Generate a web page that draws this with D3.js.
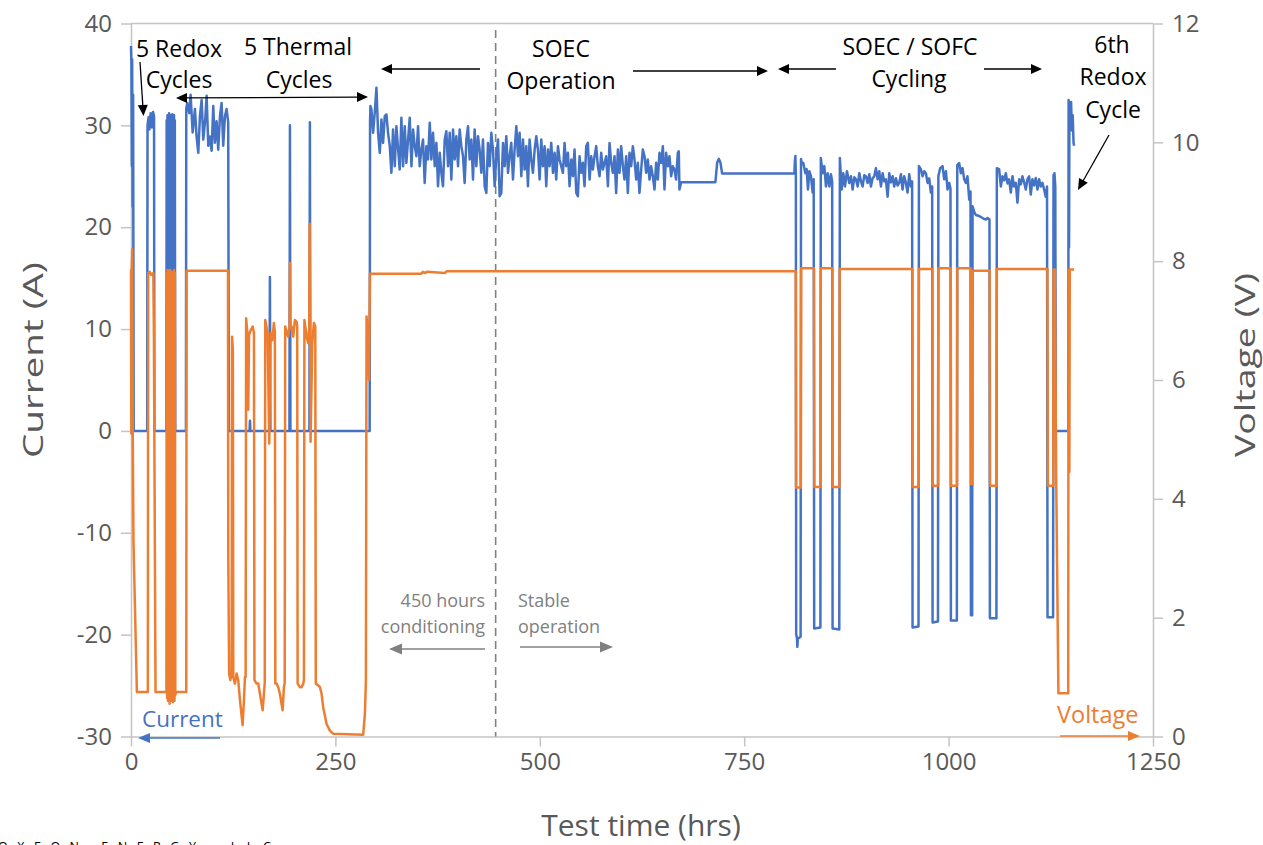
<!DOCTYPE html>
<html><head><meta charset="utf-8">
<script src="https://cdn.jsdelivr.net/npm/d3@7/dist/d3.min.js"></script>
<style>
html,body{margin:0;padding:0;background:#fff;overflow:hidden;}
svg{display:block;}
text{font-family:"Open Sans",sans-serif;}
</style></head><body>
<svg id="chart" width="1263" height="845"></svg>
<script>
// ---------- tick labels ----------
const xTicks=[0,250,500,750,1000,1250];
const currentTicks=[-30,-20,-10,0,10,20,30,40];
const voltageTicks=[0,2,4,6,8,10,12];

// ---------- Current (A): [test time hrs, amps] ----------
const currentRedox=[[0,37.8],[0.5,36.0],[1.0,26.0],[1.4,36.5],[2.0,22.0],[2.6,33.0],[3.3,0],[19.8,0],[20.2,30.0],[21.5,30.8],[22.5,29.6],[24.0,31.2],[25.5,29.8],[27.0,31.3],[28.2,30.9],[28.6,0],[43.3,0],
[43.6,30.5],[44.1,2],[44.6,31.0],[45.1,1],[45.6,30.6],[46.1,3],[46.6,31.2],[47.1,1],[47.6,30.8],[48.1,2],[48.6,31.0],[49.1,1],[49.6,30.4],[50.1,2],[50.6,31.1],[51.1,1],[51.6,30.7],[52.1,2],[52.6,31.0],[53.1,1],[53.6,30.5],[54.1,0],[55.0,0],[67.2,0],
[67.6,31.6],[68.8,32.2],[71.3,31.2],[72.9,33.0],[75.4,29.3],[78.2,31.6],[80.2,28.9],[82.3,27.3],[84.3,30.9],[86.4,32.5],[88.4,28.6],[90.8,30.6],[92.5,32.9],[94.5,28.0],[96.5,28.9],[98.6,27.5],[100.6,31.9],[102.6,28.3],[104.7,30.4],[106.7,27.6],[108.8,30.9],[110.8,32.2],[112.8,28.0],[114.9,30.9],[116.9,31.6],[118.9,30.3],[119.7,0]];
const currentThermal=[[145.0,0],[145.5,1.0],[146.0,0],[169.3,0],[169.9,15.1],[170.5,0],[193.8,0],[194.4,30.0],[195.0,0],[218.2,0],[218.8,30.3],[219.4,0],[291.9,0]];
const currentSoec=[[292.4,30.5],[292.9,31.9],[294.1,31.56],[296.1,29.27],[298.1,31.24],[300.2,33.7],[302.2,29.27],[304.3,27.3],[306.3,30.58],[308.3,28.28],[310.4,30.9],[312.4,31.07],[314.4,29.27],[316.5,27.96],[318.5,25.34],[320.5,29.6],[322.6,25.99],[324.6,29.92],[326.7,27.63],[328.7,25.66],[330.7,30.74],[332.8,25.99],[334.8,29.92],[336.8,26.32],[338.9,28.61],[340.9,30.74],[343.0,25.99],[345.0,29.6],[347.0,27.96],[349.1,26.97],[351.1,29.92],[353.1,25.99],[355.2,27.63],[357.2,28.61],[359.2,24.35],[361.3,27.96],[363.3,26.65],[365.4,30.25],[367.4,26.65],[369.4,29.27],[371.5,25.99],[373.5,28.28],[375.5,24.02],[377.6,27.3],[379.6,25.34],[381.6,24.02],[383.7,28.61],[385.7,29.43],[387.8,25.99],[389.8,29.27],[391.8,24.68],[393.9,29.6],[395.9,26.65],[397.9,28.94],[400.0,25.99],[402.0,29.6],[404.0,27.96],[406.1,26.97],[408.1,24.35],[410.2,28.61],[412.2,29.92],[414.2,26.65],[416.3,28.61],[418.3,24.68],[420.3,29.6],[422.4,25.99],[424.4,28.94],[426.4,27.63],[428.5,25.34],[430.5,28.61],[432.6,24.02],[434.6,23.37],[436.6,28.28],[438.7,25.99],[440.7,29.27],[442.7,27.63],[444.8,24.02],[446.8,26.97],[448.9,28.61],[450.9,23.04],[452.9,23.37],[455.0,28.28],[457.0,25.99],[459.0,28.94],[461.1,25.34],[463.1,26.97],[465.1,28.28],[467.2,24.68],[469.2,27.63],[471.3,29.92],[473.3,26.97],[475.3,29.27],[477.4,25.01],[479.4,28.61],[481.4,25.66],[483.5,27.96],[485.5,24.02],[487.5,28.61],[489.6,26.65],[491.6,25.34],[493.7,27.63],[495.7,28.94],[497.7,27.63],[499.8,24.68],[501.8,28.61],[503.8,25.99],[505.9,27.96],[507.9,24.02],[509.9,27.63],[512.0,25.99],[514.0,28.28],[516.1,25.34],[518.1,27.3],[520.1,24.68],[522.2,27.96],[524.2,26.65],[526.2,25.99],[528.3,25.34],[530.3,28.28],[532.3,25.99],[534.4,27.3],[536.4,24.02],[538.5,26.65],[540.5,25.01],[542.5,27.63],[544.6,23.37],[546.6,23.04],[548.6,26.97],[550.7,25.34],[552.7,26.32],[554.7,24.02],[556.8,27.96],[558.8,28.28],[560.9,24.68],[562.9,26.97],[564.9,25.66],[567.0,26.97],[569.0,27.96],[571.0,25.99],[573.1,25.01],[575.1,27.3],[577.1,25.66],[579.2,26.32],[581.2,26.97],[583.3,24.02],[585.3,28.28],[587.3,26.32],[589.4,25.34],[591.4,26.97],[593.4,23.37],[595.5,27.63],[597.5,25.34],[599.5,27.96],[601.6,25.99],[603.6,24.68],[605.7,26.97],[607.7,23.37],[609.7,27.3],[611.8,25.99],[613.8,27.96],[615.8,26.65],[617.9,24.68],[619.9,26.32],[621.9,23.37],[624.0,25.66],[626.0,27.63],[628.1,26.97],[630.1,25.34],[632.1,26.65],[634.2,24.68],[636.2,25.99],[638.2,25.01],[640.3,23.7],[642.3,26.32],[644.3,24.68],[646.4,27.3],[648.4,26.32],[650.5,27.96],[652.5,23.7],[654.5,27.3],[656.6,25.99],[658.6,26.97],[660.6,25.01],[662.7,25.99],[664.7,25.66],[666.7,24.68],[668.8,27.3],[670.0,27.46],[670.8,23.7],[672.9,24.42],[714.8,24.42],[716.9,26.32],[718.9,26.71],[721.0,26.32],[723.0,25.27],[811.4,25.27]];
const currentCycling=[[812.0,26.5],[812.6,27.0],[813.2,25.0],[813.6,-20.0],[814.5,-20.3],[815.0,-21.2],[815.6,-20.4],[819.0,-20.2],
[819.5,26.7],[820.5,26.3],[822.3,26.3],[824.8,25.3],[826.4,25.7],[828.0,23.7],[829.7,25.5],[831.7,25.0],[833.7,23.4],[835.0,24.7],[835.6,-19.4],[843.2,-19.3],
[843.7,26.8],[845.9,25.3],[848.0,26.0],[850.0,24.0],[852.1,25.3],[854.1,24.0],[856.1,25.2],[857.6,24.5],[858.1,-19.4],[866.3,-19.5],
[867.0,26.8],[869.2,23.7],[871.2,25.3],[873.2,24.0],[875.7,25.5],[878.5,24.35],[880.6,25.0],[882.6,23.7],[884.7,24.9],[886.7,24.7],[888.8,24.0],[890.8,25.3],[892.8,24.5],[894.8,24.0],[896.9,25.1],[898.9,25.0],[900.9,24.35],[903.0,25.2],[905.0,24.0],[907.0,24.8],[909.1,25.0],[911.1,25.8],[913.2,24.7],[915.2,25.5],[917.2,24.0],[919.3,25.3],[921.3,24.5],[923.3,24.7],[925.4,23.0],[927.4,25.3],[929.4,24.4],[931.5,25.0],[933.5,24.0],[935.6,24.8],[937.6,24.1],[939.6,24.35],[941.7,25.2],[943.7,23.7],[945.7,25.0],[947.8,24.35],[949.8,23.4],[951.8,25.2],[953.9,24.0],[955.4,24.5],[955.9,-19.3],[963.2,-19.2],
[963.7,26.0],[966.1,25.7],[968.1,25.0],[970.2,25.5],[972.2,25.3],[974.3,24.35],[976.3,24.8],[978.3,23.4],[979.9,24.0],[980.4,-18.8],[987.0,-18.7],
[987.5,25.0],[989.7,25.8],[992.6,26.0],[994.6,24.7],[996.7,25.5],[998.7,23.7],[1000.7,24.35],[1002.3,23.8],[1002.8,-18.6],[1010.1,-18.6],
[1010.6,26.1],[1012.9,26.3],[1015.0,25.3],[1017.0,25.8],[1019.1,24.7],[1021.1,24.35],[1023.1,25.0],[1025.2,22.7],[1026.8,23.5],[1027.3,-18.1],[1028.8,-18.1],
[1029.3,22.05],[1031.3,21.5],[1033.3,21.2],[1037.4,21.1],[1041.5,20.9],[1045.5,20.75],[1047.6,20.9],[1050.0,20.75],[1050.5,-18.4],[1058.5,-18.4],
[1059.0,25.8],[1061.8,25.7],[1063.9,24.0],[1065.9,25.0],[1068.0,24.6],[1070.0,25.3],[1072.0,24.3],[1074.0,24.7],[1076.1,23.4],[1078.1,25.0],[1080.1,24.0],[1082.2,24.35],[1084.2,22.4],[1086.3,24.7],[1088.3,24.2],[1090.3,25.0],[1092.4,24.4],[1094.4,23.7],[1096.4,24.7],[1098.5,25.0],[1100.5,23.2],[1102.5,24.7],[1104.6,24.1],[1106.6,24.84],[1108.7,23.7],[1110.7,24.7],[1112.7,24.0],[1114.8,24.35],[1116.8,23.7],[1118.8,23.0],[1120.4,24.0],[1121.0,-18.3],[1127.8,-18.3],
[1128.3,25.1],[1129.5,25.3],[1130.5,24.0],[1131.1,0],[1146.3,0],[1146.8,32.5],[1147.3,18],[1147.8,32.0],[1148.8,31.0],[1149.8,32.3],[1150.8,29.5],[1151.8,31.0],[1152.8,28.3],[1153.5,28.0]];

// ---------- Voltage (V): [test time hrs, volts] ----------
const voltageRedox=[[0,7.86],[0.4,5.1],[0.9,7.9],[1.5,8.2],[2.2,5.0],[3.0,3.3],[7.2,0.75],[20.6,0.75],[21.0,7.8],[23.0,7.82],[24.5,7.77],[27.3,7.8],[28.0,6.8],[30.0,0.75],[43.3,0.75],
[43.7,7.8],[44.2,0.65],[44.7,7.85],[45.2,0.6],[45.7,7.8],[46.2,0.7],[46.7,7.8],[47.2,0.55],[47.7,7.85],[48.2,0.65],[48.7,7.8],[49.2,0.6],[49.7,7.82],[50.2,0.7],[50.7,7.8],[51.2,0.58],[51.7,7.8],[52.2,0.66],[52.7,7.85],[53.2,0.6],[53.7,7.8],[54.2,0.7],[55.5,0.75],[67.6,0.75],[68.0,7.84],[118.6,7.84]];
const voltageThermal=[[119.0,3.0],[120.0,1.06],[121.5,0.95],[123.1,1.06],[123.6,6.73],[124.6,6.5],[125.1,1.0],[127.1,0.89],[129.2,1.06],[131.2,0.94],[133.3,0.61],[136.5,0.19],[138.1,0.6],[139.4,1.0],[140.2,1.0],[140.8,7.04],[142.4,6.79],[143.4,5.5],[144.4,6.76],[146.5,6.84],[148.8,6.9],[150.4,6.8],[151.0,0.95],[153.6,0.89],[155.7,0.89],[157.7,0.72],[161.0,0.44],[162.6,0.72],[163.6,0.9],
[164.2,7.01],[167.1,6.79],[169.1,4.93],[170.7,6.79],[172.8,6.67],[174.8,6.96],[176.0,6.8],[176.5,0.89],[178.1,0.89],[180.1,0.83],[182.1,0.72],[185.4,0.44],[187.0,0.83],[188.0,0.9],
[188.6,6.9],[192.3,6.73],[194.0,6.9],[194.4,7.97],[194.9,6.9],[196.4,6.9],[198.4,6.73],[200.5,7.01],[202.5,6.98],[203.3,6.9],[203.8,0.89],[206.6,0.83],[208.6,0.83],[210.7,0.89],[211.5,0.95],
[212.1,7.01],[214.8,6.73],[216.8,6.62],[218.0,6.9],[218.5,8.63],[219.2,6.8],[219.6,4.96],[221.7,6.62],[223.7,6.96],[225.4,6.9],[226.0,0.89],[229.0,0.86],[231.1,0.83],[233.1,0.72],[235.1,0.49],[239.2,0.21],[243.3,0.1],[247.4,0.045],[284.0,0.03],[286.1,0.39],[287.3,0.94],
[288.1,7.07],[289.0,6.9],[290.1,6.87],[291.2,6.0],[292.2,7.79]];
const voltageSoec=[[355,7.79],[357,7.82],[360,7.8],[362,7.82],[384,7.8],[386,7.83],[813.0,7.83]];
const voltageCycling=[[813.4,4.19],[819.3,4.19],[819.7,7.88],[835.4,7.88],[835.8,4.2],[843.3,4.2],[843.7,7.88],[857.8,7.88],[858.2,4.2],[866.4,4.2],[866.8,7.87],[955.7,7.87],[956.1,4.2],[963.3,4.2],[963.7,7.87],[980.2,7.87],[980.6,4.22],[987.1,4.22],[987.5,7.88],[1002.6,7.88],[1003.0,4.22],[1010.3,4.22],[1010.7,7.88],[1027.1,7.88],[1027.5,4.25],[1029.0,4.25],[1029.4,7.84],[1050.3,7.84],[1050.7,4.22],[1058.6,4.22],[1059.0,7.87],[1120.9,7.87],[1121.5,4.22],[1128.0,4.22],[1128.4,7.86],[1130.0,7.86],[1131.5,4.5],[1134.3,0.73],[1146.3,0.73],[1146.7,7.86],[1147.3,7.86],[1147.7,4.45],[1148.2,7.86],[1153.5,7.86]];

const currentData=[].concat(currentRedox,currentThermal,currentSoec,currentCycling);
const voltageData=[].concat(voltageRedox,voltageThermal,voltageSoec,voltageCycling);

// ---------- drawing ----------
const svg=d3.select('#chart');
const x=d3.scaleLinear().domain([0,1250]).range([131,1153]);
const yI=d3.scaleLinear().domain([-30,40]).range([736.5,23.5]);
const yV=d3.scaleLinear().domain([0,12]).range([736.5,23.5]);
const axisColor='#c4c4c4', labelColor='#595959';
const BLUE='#4472C4', ORANGE='#ED7D31';

function styleAxis(g,fs){
  g.selectAll('path.domain').attr('stroke',axisColor).attr('stroke-width',1.5);
  g.selectAll('.tick line').attr('stroke',axisColor).attr('stroke-width',1.5);
  g.selectAll('.tick text').attr('fill',labelColor).style('font-size',fs+'px').style('font-family','"Open Sans",sans-serif');
}
// top border
svg.append('line').attr('x1',x(0)).attr('x2',x(1250)).attr('y1',yI(40)).attr('y2',yI(40)).attr('stroke',axisColor).attr('stroke-width',1.5);

const gx=svg.append('g').attr('transform',`translate(0,${yI(-30)})`)
  .call(d3.axisBottom(x).tickValues(xTicks).tickSize(10).tickSizeOuter(0).tickPadding(6).tickFormat(d3.format('d')));
styleAxis(gx,24);
const gl=svg.append('g').attr('transform',`translate(${x(0)},0)`)
  .call(d3.axisLeft(yI).tickValues(currentTicks).tickSize(10).tickSizeOuter(0).tickPadding(9).tickFormat(d=>d<0?'-'+Math.abs(d):d));
styleAxis(gl,24);
const gr=svg.append('g').attr('transform',`translate(${x(1250)},0)`)
  .call(d3.axisRight(yV).tickValues(voltageTicks).tickSize(10).tickSizeOuter(0).tickPadding(9));
styleAxis(gr,24);

// axis titles (stretched along their length like the source picture)
svg.append('text').attr('transform','translate(43,360) rotate(-90) scale(1.38,1)').attr('text-anchor','middle')
  .attr('fill',labelColor).style('font-size','28px').text('Current (A)');
svg.append('text').attr('transform','translate(1255,365) rotate(-90) scale(1.34,1)').attr('text-anchor','middle')
  .attr('fill',labelColor).style('font-size','28px').text('Voltage (V)');
svg.append('text').attr('x',641).attr('y',836).attr('text-anchor','middle')
  .attr('fill',labelColor).style('font-size','30px').text('Test time (hrs)');

// dashed divider at ~450 h
svg.append('line').attr('x1',x(446)).attr('x2',x(446)).attr('y1',30).attr('y2',yI(-30))
  .attr('stroke','#808080').attr('stroke-width',1.6).attr('stroke-dasharray','8,5');

// series
svg.append('path').datum(currentData).attr('fill','none').attr('stroke',BLUE).attr('stroke-width',2.5)
  .attr('stroke-linejoin','round').attr('d',d3.line().x(d=>x(d[0])).y(d=>yI(d[1])));
svg.append('path').datum(voltageData).attr('fill','none').attr('stroke',ORANGE).attr('stroke-width',2.5)
  .attr('stroke-linejoin','round').attr('d',d3.line().x(d=>x(d[0])).y(d=>yV(d[1])));

// arrows
function arrow(x1,y1,x2,y2,color,w,hl,hw,both){
  const g=svg.append('g');
  function head(ax,ay,bx,by){
    const dx=bx-ax,dy=by-ay,L=Math.hypot(dx,dy),ux=dx/L,uy=dy/L;
    const px=-uy,py=ux;
    const baseX=bx-ux*hl,baseY=by-uy*hl;
    g.append('polygon').attr('points',[[bx,by],[baseX+px*hw/2,baseY+py*hw/2],[baseX-px*hw/2,baseY-py*hw/2]].map(p=>p.join(',')).join(' ')).attr('fill',color);
    return [baseX+ux*1,baseY+uy*1];
  }
  const e=head(x1,y1,x2,y2);
  let s=[x1,y1];
  if(both) s=head(x2,y2,x1,y1);
  g.insert('line','polygon').attr('x1',s[0]).attr('y1',s[1]).attr('x2',e[0]).attr('y2',e[1]).attr('stroke',color).attr('stroke-width',w);
}
arrow(140,62,143.5,116,'#000',1.3,11,10,false);
arrow(176,98,368,97,'#000',1.3,11,10,true);
arrow(480,69,381,69,'#000',1.3,11,10,false);
arrow(633,71,768,71,'#000',1.3,11,10,false);
arrow(836,69,778,69,'#000',1.3,11,10,false);
arrow(984,69,1042,69,'#000',1.3,11,10,false);
arrow(1109,135,1078,190,'#000',1.3,11,10,false);
arrow(485,649,389,649,'#808080',1.6,13,11,false);
arrow(520,647,613,647,'#808080',1.6,13,11,false);
arrow(220,738,138,738,BLUE,1.6,12,10,false);
arrow(1060,736,1140,736,ORANGE,1.6,12,10,false);

// annotation texts
const notes=[
  ['5 Redox',179,57],['Cycles',179,88],
  ['5 Thermal',298,55],['Cycles',299,88],
  ['SOEC',561,57],['Operation',561,89],
  ['SOEC / SOFC',910,55],['Cycling',909,87],
  ['6th',1112,53],['Redox',1113,85],['Cycle',1113,118]
];
notes.forEach(n=>svg.append('text').attr('x',n[1]).attr('y',n[2]).attr('text-anchor','middle')
  .attr('fill','#000').style('font-size','23px').text(n[0]));
const grayNotes=[['450 hours',485,607,'end'],['conditioning',485,633,'end'],['Stable',518,607,'start'],['operation',518,633,'start']];
grayNotes.forEach(n=>svg.append('text').attr('x',n[1]).attr('y',n[2]).attr('text-anchor',n[3])
  .attr('fill','#808080').style('font-size','18px').text(n[0]));
svg.append('text').attr('x',142).attr('y',727).attr('fill',BLUE).style('font-size','22.5px').text('Current');
svg.append('text').attr('x',1057).attr('y',723).attr('fill',ORANGE).style('font-size','23.5px').text('Voltage');
svg.append('text').attr('x',-2).attr('y',851).attr('fill','#000').style('font-size','12.5px').style('letter-spacing','9.5px').text('OXEON ENERGY, LLC');
</script>
</body></html>
